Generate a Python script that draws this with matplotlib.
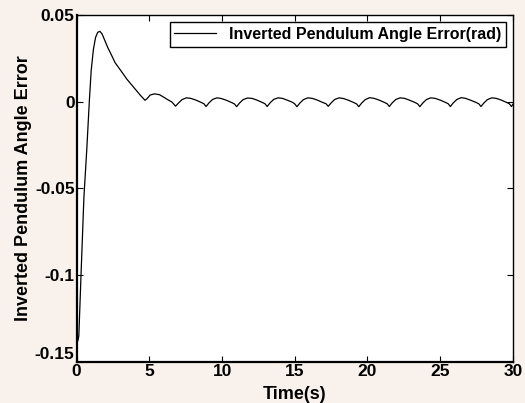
import matplotlib.pyplot as plt

# time (s) and pendulum angle error (rad)
t = [0.00, 0.08, 0.15, 0.30, 0.50, 0.70, 0.87, 1.00, 1.15, 1.30,
     1.45, 1.60, 1.75, 1.95, 2.15, 2.30, 2.50, 2.64, 2.90, 3.20,
     3.45, 3.80, 4.10, 4.40, 4.70, 4.85, 5.05, 5.35, 5.70, 6.00,
     6.25, 6.55,
     6.80, 7.00, 7.25, 7.55, 7.85, 8.20, 8.55, 8.75,
     8.90, 9.10, 9.35, 9.65, 9.95, 10.30, 10.65, 10.85,
     11.00, 11.20, 11.45, 11.75, 12.05, 12.40, 12.75, 12.95,
     13.10, 13.30, 13.55, 13.85, 14.15, 14.50, 14.85, 15.00,
     15.15, 15.35, 15.60, 15.90, 16.20, 16.55, 16.90, 17.15,
     17.30, 17.50, 17.75, 18.05, 18.35, 18.70, 19.05, 19.25,
     19.40, 19.60, 19.85, 20.15, 20.45, 20.80, 21.15, 21.35,
     21.50, 21.70, 21.95, 22.25, 22.55, 22.90, 23.25, 23.45,
     23.60, 23.80, 24.05, 24.35, 24.65, 25.00, 25.35, 25.55,
     25.70, 25.90, 26.15, 26.45, 26.75, 27.10, 27.45, 27.65,
     27.80, 28.00, 28.25, 28.55, 28.85, 29.20, 29.55, 29.75,
     29.90, 30.00]
err = [-0.128, -0.138, -0.135, -0.100, -0.055, -0.027, 0.000, 0.018, 0.030, 0.037,
       0.0400, 0.0405, 0.0390, 0.0350, 0.0310, 0.0285, 0.0250, 0.0225, 0.0195, 0.0160,
       0.0130, 0.0095, 0.0065, 0.0035, 0.0008, 0.0018, 0.0038, 0.0045, 0.0040, 0.0025,
       0.0012, -0.0002,
       -0.0026, -0.0008, 0.0012, 0.0022, 0.0019, 0.0009, -0.0004, -0.0012,
       -0.0028, -0.0007, 0.0013, 0.0022, 0.0018, 0.0008, -0.0005, -0.0013,
       -0.0029, -0.0008, 0.0012, 0.0021, 0.0019, 0.0009, -0.0004, -0.0012,
       -0.0028, -0.0007, 0.0013, 0.0022, 0.0019, 0.0008, -0.0004, -0.0013,
       -0.0029, -0.0008, 0.0012, 0.0022, 0.0019, 0.0009, -0.0004, -0.0012,
       -0.0027, -0.0007, 0.0013, 0.0022, 0.0018, 0.0008, -0.0005, -0.0013,
       -0.0029, -0.0008, 0.0012, 0.0023, 0.0019, 0.0009, -0.0004, -0.0012,
       -0.0028, -0.0007, 0.0013, 0.0022, 0.0019, 0.0008, -0.0004, -0.0013,
       -0.0029, -0.0008, 0.0012, 0.0022, 0.0019, 0.0009, -0.0004, -0.0012,
       -0.0028, -0.0007, 0.0013, 0.0023, 0.0019, 0.0008, -0.0004, -0.0012,
       -0.0028, -0.0008, 0.0012, 0.0022, 0.0019, 0.0009, -0.0004, -0.0012,
       -0.0028, -0.0015]

x_ticks = [0, 5, 10, 15, 20, 25, 30]
y_ticks = [-0.15, -0.1, -0.05, 0, 0.05]
y_tick_labels = ['-0.15', '-0.1', '-0.05', '0', '0.05']

plt.rcParams['font.family'] = ['Liberation Sans', 'DejaVu Sans']
plt.rcParams['font.weight'] = 'bold'

fig = plt.figure(figsize=(5.25, 4.03), dpi=100, facecolor='#f9f2ec')
ax = fig.add_axes([0.146, 0.102, 0.831, 0.861])
ax.set_facecolor('white')

ax.plot(t, err, color='black', linewidth=0.9,
        label='Inverted Pendulum Angle Error(rad)')

ax.set_xlim(0, 30)
ax.set_ylim(-0.15, 0.05)
ax.set_xticks(x_ticks)
ax.set_xticklabels([str(v) for v in x_ticks])
ax.set_yticks(y_ticks)
ax.set_yticklabels(y_tick_labels)
ax.tick_params(direction='in', top=True, right=True, length=4, width=0.8,
               labelsize=12.5, pad=1.5)
# lift the lowest y label clear of the x "0", as MATLAB does
ax.get_yticklabels()[0].set_verticalalignment('bottom')

for side in ['left', 'bottom']:
    ax.spines[side].set_linewidth(1.6)
for side in ['top', 'right']:
    ax.spines[side].set_linewidth(1.0)

ax.set_xlabel('Time(s)', fontsize=13, fontweight='bold', labelpad=5)
ax.set_ylabel('Inverted Pendulum Angle Error', fontsize=13,
              fontweight='bold', labelpad=2)

leg = ax.legend(loc='upper right', fontsize=11.5, fancybox=False,
                framealpha=1, edgecolor='black', handlelength=2.6,
                borderaxespad=0.45, borderpad=0.3)
leg.get_frame().set_linewidth(1.0)

fig.savefig('out.png', dpi=100, facecolor=fig.get_facecolor())
